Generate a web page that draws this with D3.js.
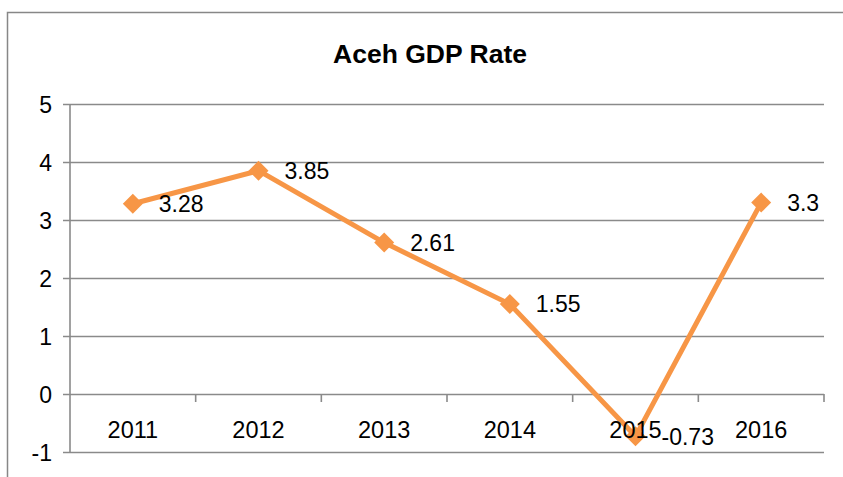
<!DOCTYPE html>
<html>
<head>
<meta charset="utf-8">
<script src="https://cdn.jsdelivr.net/npm/d3@7"></script>
<style>
  body { margin: 0; background: #fff; }
  text { font-family: "Liberation Sans", Arial, sans-serif; fill: #000; }
</style>
</head>
<body>
<div id="chart"></div>
<script>
var years = ["2011", "2012", "2013", "2014", "2015", "2016"];
var gdpRate = [3.28, 3.85, 2.61, 1.55, -0.73, 3.3];
var yTicks = [-1, 0, 1, 2, 3, 4, 5];

var fullWidth = 843, fullHeight = 477;
var margin = {top: 104, right: 19, bottom: 25, left: 70};
var width = fullWidth - margin.left - margin.right;
var height = fullHeight - margin.top - margin.bottom;

var data = years.map(function(y, i) { return {year: y, value: gdpRate[i]}; });

var svg = d3.select("#chart")
  .append("svg")
  .attr("width", fullWidth)
  .attr("height", fullHeight);

// chart border (runs off the right and bottom edges)
svg.append("rect")
  .attr("x", 7.5).attr("y", 12.5)
  .attr("width", 860).attr("height", 500)
  .attr("fill", "none")
  .attr("stroke", "#878787")
  .attr("stroke-width", 1.5);

svg.append("text")
  .attr("x", 430).attr("y", 63)
  .attr("text-anchor", "middle")
  .style("font-size", "26.5px")
  .style("font-weight", "bold")
  .text("Aceh GDP Rate");

var g = svg.append("g")
  .attr("transform", "translate(" + margin.left + "," + margin.top + ")");

var x = d3.scaleBand().domain(years).range([0, width]);
var y = d3.scaleLinear().domain([-1, 5]).range([height, 0]);

// gridlines + y axis
var yAxis = g.append("g")
  .call(d3.axisLeft(y).tickValues(yTicks).tickSize(-width).tickSizeOuter(0).tickPadding(18)
    .tickFormat(function(d) { return String(d); }));
yAxis.select(".domain").remove();
yAxis.selectAll(".tick line")
  .attr("x1", -7)
  .attr("stroke", "#8a8a8a")
  .attr("stroke-width", 1.6);
yAxis.selectAll(".tick text")
  .style("font-size", "23px")
  .attr("dy", "0.36em");

g.append("line")
  .attr("x1", 0).attr("x2", 0)
  .attr("y1", 0).attr("y2", height)
  .attr("stroke", "#8a8a8a")
  .attr("stroke-width", 1.6);

// ticks between categories
g.append("g").selectAll("line")
  .data(years)
  .enter().append("line")
  .attr("x1", function(d) { return x(d) + x.bandwidth(); })
  .attr("x2", function(d) { return x(d) + x.bandwidth(); })
  .attr("y1", y(0))
  .attr("y2", y(0) + 8)
  .attr("stroke", "#8a8a8a")
  .attr("stroke-width", 1.6);

var cx = function(d) { return x(d.year) + x.bandwidth() / 2; };

g.append("path")
  .datum(data)
  .attr("fill", "none")
  .attr("stroke", "#F79646")
  .attr("stroke-width", 5)
  .attr("stroke-linejoin", "round")
  .attr("d", d3.line().x(cx).y(function(d) { return y(d.value); }));

g.append("g").selectAll("path")
  .data(data)
  .enter().append("path")
  .attr("d", d3.symbol().type(d3.symbolSquare).size(200))
  .attr("fill", "#F79646")
  .attr("transform", function(d) { return "translate(" + cx(d) + "," + y(d.value) + ") rotate(45)"; });

// category labels sit on zero, drawn over the line
var xAxis = g.append("g")
  .attr("transform", "translate(0," + y(0) + ")")
  .call(d3.axisBottom(x).tickSize(0).tickPadding(0));
xAxis.select(".domain").remove();
xAxis.selectAll(".tick text")
  .style("font-size", "23.5px")
  .attr("y", 44)
  .attr("dy", 0);

g.append("g").selectAll("text")
  .data(data)
  .enter().append("text")
  .attr("x", function(d) { return cx(d) + 26; })
  .attr("y", function(d) { return y(d.value); })
  .attr("dy", "0.36em")
  .style("font-size", "23px")
  .text(function(d) { return d.value; });
</script>
</body>
</html>
